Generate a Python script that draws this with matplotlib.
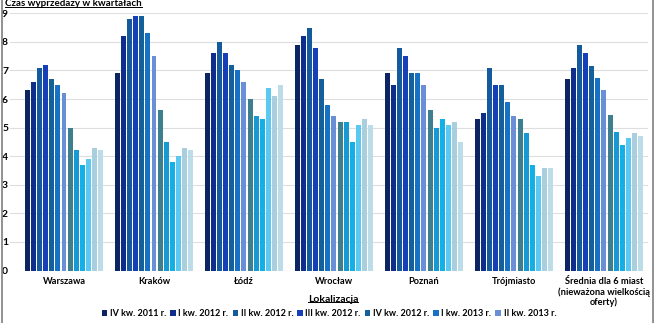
import matplotlib
matplotlib.use("Agg")
import matplotlib.pyplot as plt
import numpy as np
from matplotlib.patches import Rectangle
from matplotlib.lines import Line2D

plt.rcParams['font.family'] = ['Lato', 'DejaVu Sans']

cities = ["Warszawa", "Kraków", "Łódź", "Wrocław", "Poznań", "Trójmiasto",
          "Średnia dla 6 miast\n(nieważona wielkością\noferty)"]
quarters = ["IV kw. 2011 r.", "I kw. 2012 r.", "II kw. 2012 r.", "III kw. 2012 r.",
            "IV kw. 2012 r.", "I kw. 2013 r.", "II kw. 2013 r.", "III kw. 2013 r.",
            "IV kw. 2013 r.", "I kw. 2014 r.", "II kw. 2014 r.", "III kw. 2014 r.",
            "IV kw. 2014 r."]

warszawa = [6.3, 6.6, 7.1, 7.2, 6.7, 6.5, 6.2, 5.0, 4.2, 3.7, 3.9, 4.3, 4.2]
krakow = [6.9, 8.2, 8.8, 8.9, 8.9, 8.3, 7.5, 5.6, 4.5, 3.8, 4.0, 4.3, 4.2]
lodz = [6.9, 7.6, 8.0, 7.6, 7.2, 7.0, 6.6, 6.0, 5.4, 5.3, 6.4, 6.1, 6.5]
wroclaw = [7.9, 8.2, 8.5, 7.8, 6.7, 5.8, 5.4, 5.2, 5.2, 4.5, 5.1, 5.3, 5.1]
poznan = [6.9, 6.5, 7.8, 7.5, 6.9, 6.9, 6.5, 5.6, 5.0, 5.3, 5.1, 5.2, 4.5]
trojmiasto = [5.3, 5.5, 7.1, 6.5, 6.5, 5.9, 5.4, 5.3, 4.8, 3.7, 3.3, 3.6, 3.6]
srednia = [6.7, 7.1, 7.9, 7.6, 7.15, 6.75, 6.3, 5.45, 4.85, 4.4, 4.65, 4.8, 4.7]

colors = ['#0c2461', '#0f2d8a', '#155a9c', '#1740b8', '#14609a', '#1672c4',
          '#6a8fd6', '#3d7f8f', '#1799d4', '#12b0e6', '#5bc8f2', '#a9cfde',
          '#bcdde8']

data = np.array([warszawa, krakow, lodz, wroclaw, poznan, trojmiasto, srednia])

fig = plt.figure(figsize=(6.57, 3.23), dpi=100)
ax = fig.add_axes([10 / 657, 1 - 270.5 / 323, 638 / 657, 257.2 / 323])

x = np.arange(len(cities))
n = len(quarters)
slot = 0.0683
width = 0.055
bars = []
for j in range(n):
    b = ax.bar(x + (j - (n - 1) / 2) * slot, data[:, j], width,
               color=colors[j], label=quarters[j], zorder=2)
    bars.append(b)

ax.set_xlim(-0.6, 6.49)
ax.set_ylim(0, 9)
ax.set_yticks(range(10))
ax.grid(axis='y', color='#dedede', linewidth=0.8, zorder=0)
for s in ax.spines.values():
    s.set_visible(False)
ax.tick_params(axis='both', length=0)
ax.tick_params(axis='y', pad=2, labelsize=7.5)
ax.set_xticks(x)
ax.set_xticklabels(cities, fontsize=6.7, fontweight='bold', va='top', linespacing=1.1)
ax.tick_params(axis='x', pad=5)
for t in ax.get_yticklabels():
    t.set_fontweight('bold')
    t.set_horizontalalignment('left')
    t.set_x(-0.008)

# axis titles (underlined)
fig.canvas.draw()
renderer = fig.canvas.get_renderer()

def underlined(xf, yf, s, ha, size):
    t = fig.text(xf, yf, s, fontsize=size, fontweight='bold', ha=ha, va='center')
    bb = t.get_window_extent(renderer).transformed(fig.transFigure.inverted())
    fig.add_artist(Line2D([bb.x0, bb.x1], [bb.y0 + 0.004, bb.y0 + 0.004],
                          transform=fig.transFigure, color='black', linewidth=0.7))

underlined(5 / 657, 1 - 4 / 323, "Czas wyprzedaży w kwartałach", 'left', 7)
underlined(333 / 657, 1 - 299 / 323, "Lokalizacja", 'center', 7.5)

fig.legend(handles=[b[0] for b in bars[:7]], labels=quarters[:7],
           loc='center', bbox_to_anchor=(329 / 657, 1 - 314 / 323), ncol=7,
           frameon=False, prop={'size': 6.5, 'weight': 'bold'},
           handlelength=0.6, handleheight=0.6, handletextpad=0.3,
           columnspacing=0.45, borderpad=0)

fig.add_artist(Rectangle((2 / 657, -0.01), 651 / 657, 1.02, transform=fig.transFigure,
                         fill=False, edgecolor='#7f7f7f', linewidth=1.2))

fig.savefig("out.png", dpi=100)
